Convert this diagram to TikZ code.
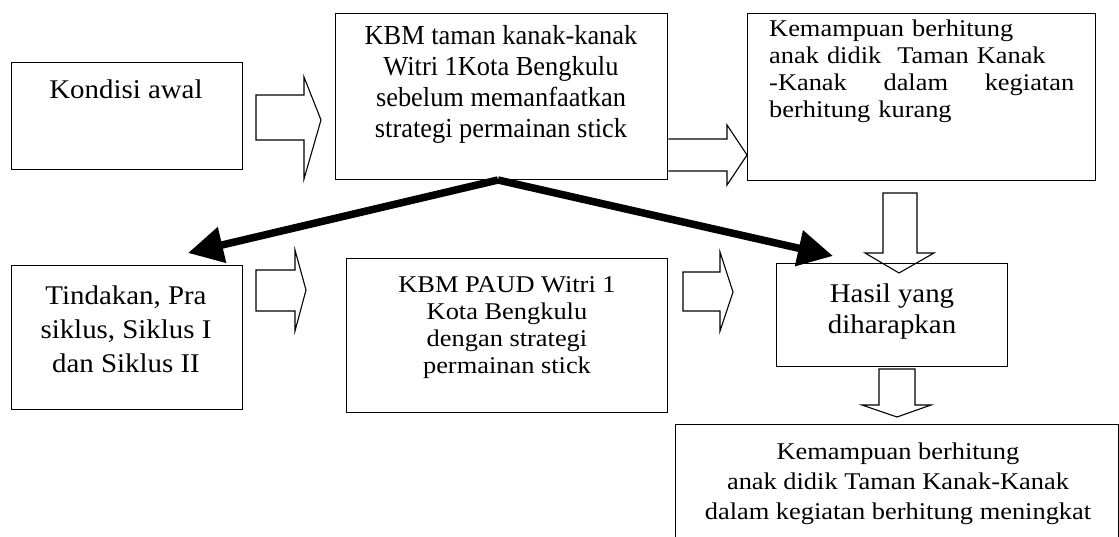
\documentclass[tikz,border=0pt]{standalone}
\usepackage{fontspec}
\setmainfont{Liberation Serif}
\newfontfamily\bigserif{Liberation Serif}[FakeStretch=1.07]
\newfontfamily\smallserif{Liberation Serif}[FakeStretch=1.1]
\newfontfamily\narrowserif{Liberation Serif}[FakeStretch=0.96]
\usetikzlibrary{arrows.meta}
\tikzset{
  box/.style={draw,line width=1.3pt,inner sep=0pt,anchor=north west},
  bigtxt/.style={font=\bigserif\fontsize{27}{#1}\selectfont,align=center,anchor=base,inner sep=0pt},
  smalltxt/.style={font=\smallserif\fontsize{24}{#1}\selectfont,align=center,anchor=base,inner sep=0pt},
  toptxt/.style={font=\narrowserif\fontsize{27.5}{#1}\selectfont,align=center,anchor=base,inner sep=0pt},
  blockarrow/.style={draw,line width=1.1pt,line join=miter},
  fatarrow/.style={line width=7.5pt,-{Triangle[length=35pt,width=35pt]}}
}
\begin{document}
\begin{tikzpicture}[x=1pt,y=-1pt]
\useasboundingbox (0,0) rectangle (1119,537);
\fill[white] (0,0) rectangle (1119,537);
\clip (0,0) rectangle (1119,537);

% boxes
\node[box,minimum width=231pt,minimum height=107pt] (k) at (11,62) {};
\node[box,minimum width=332pt,minimum height=166pt] (t) at (335,13) {};
\node[box,minimum width=348pt,minimum height=167pt] (r) at (747,13) {};
\node[box,minimum width=231pt,minimum height=144pt] (a) at (11,265) {};
\node[box,minimum width=321pt,minimum height=154pt] (p) at (346,258) {};
\node[box,minimum width=231pt,minimum height=103pt] (h) at (776,263) {};
\node[box,minimum width=443pt,minimum height=140pt] (b) at (675,424) {};

% texts (anchor = baseline of last line)
\node[bigtxt=25] (kt) at (126,99) {Kondisi awal};
\node[toptxt=31] (tt) at (501,138) {KBM taman kanak-kanak\\Witri 1Kota Bengkulu\\sebelum memanfaatkan\\strategi permainan stick};
\node[font=\smallserif\fontsize{24}{27}\selectfont,align=left,text width=305pt,anchor=base west,inner sep=0pt] (rt) at (769,37)
  {Kemampuan berhitung\\anak didik\ \ Taman Kanak\\\leavevmode\hbox to 305pt{-Kanak\hfill dalam\hfill kegiatan}\\berhitung kurang};
\node[bigtxt=34] (at) at (126,372) {Tindakan, Pra\\siklus, Siklus I\\dan Siklus II};
\node[smalltxt=27] (pt) at (507,373) {KBM PAUD Witri 1\\Kota Bengkulu\\dengan strategi\\permainan stick};
\node[bigtxt=32] (ht) at (892,334) {Hasil yang\\diharapkan};
\node[smalltxt=30] (bt) at (898,519) {Kemampuan berhitung\\anak didik Taman Kanak-Kanak\\dalam kegiatan berhitung meningkat};

% hollow block arrows
\draw[blockarrow] (256,95) -- (304,95) -- (304,77) -- (321,120) -- (304,179) -- (304,140) -- (256,140) -- cycle;
\draw[blockarrow] (t.east |- 0,139) -- (727,139) -- (727,125) -- (747,155) -- (727,185) -- (727,171) -- (t.east |- 0,171);
\draw[blockarrow] (883,193) -- (917,193) -- (917,253) -- (934,253) -- (899,273) -- (865,253) -- (883,253) -- cycle;
\draw[blockarrow] (256,270) -- (295,270) -- (295,250) -- (306,290) -- (295,331) -- (295,311) -- (256,311) -- cycle;
\draw[blockarrow] (683,272) -- (720,272) -- (720,252) -- (733,292) -- (720,331) -- (720,311) -- (683,311) -- cycle;
\draw[blockarrow] (879,369) -- (915,369) -- (915,405) -- (931,405) -- (897,417) -- (862,405) -- (879,405) -- cycle;

% thick arrows
\coordinate (v) at (498,180);
\coordinate (lt) at (188,253);
\coordinate (rtip) at (833,256);
\draw[fatarrow] (v) -- (lt);
\draw[fatarrow] (v) -- (rtip);
\end{tikzpicture}
\end{document}
